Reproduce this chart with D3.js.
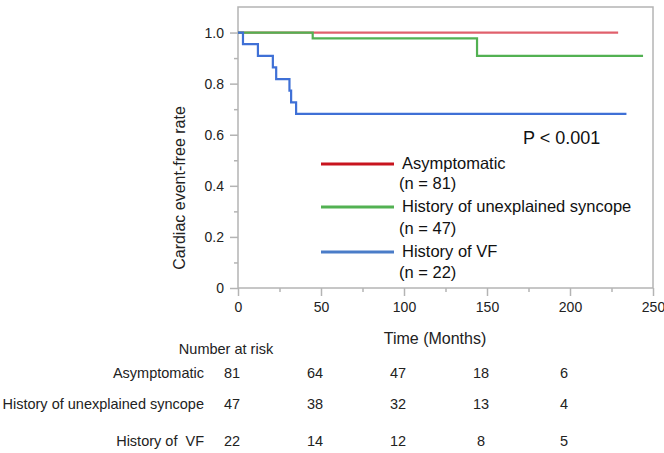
<!DOCTYPE html>
<html>
<head>
<meta charset="utf-8">
<script src="https://cdn.jsdelivr.net/npm/d3@7"></script>
<style>
  body { margin: 0; background: #fff; }
  svg { font-family: "Liberation Sans", Arial, sans-serif; }
</style>
</head>
<body>
<div id="chart"></div>
<script>
// Kaplan-Meier curves (time in months, survival fraction)
const groups = ["Asymptomatic", "History of unexplained syncope", "History of VF"];
const groupN = ["(n = 81)", "(n = 47)", "(n = 22)"];
const asymTimes = [0, 229];
const asymSurv = [1, 1];
const syncTimes = [0, 45, 144, 244];
const syncSurv = [1, 0.977, 0.909, 0.909];
const vfTimes = [0, 3, 12, 21, 23, 31, 32, 35, 234];
const vfSurv = [1, 0.955, 0.909, 0.864, 0.818, 0.773, 0.727, 0.682, 0.682];

// number at risk table
const riskTimes = [0, 50, 100, 150, 200];
const riskLabels = ["Asymptomatic", "History of unexplained syncope", "History of  VF"];
const riskAsym = [81, 64, 47, 18, 6];
const riskSync = [47, 38, 32, 13, 4];
const riskVF = [22, 14, 12, 8, 5];

const xTicks = [0, 50, 100, 150, 200, 250];
const yTicks = [0, 0.2, 0.4, 0.6, 0.8, 1.0];

const width = 664, height = 453;
const margin = {top: 7, right: 11, bottom: 165, left: 238};
const axisColor = "#b4b4b4";
const curveColors = ["#e0606c", "#52b152", "#3f70d6"];
const legendColors = ["#c8141e", "#52b152", "#4a7cc8"];

const svg = d3.select("#chart").append("svg")
    .attr("width", width)
    .attr("height", height);

const xScale = d3.scaleLinear().domain([0, 250]).range([margin.left, width - margin.right]);
const yScale = d3.scaleLinear().domain([0, 1.1]).range([height - margin.bottom, margin.top]);

// frame
svg.append("rect")
    .attr("x", xScale(0))
    .attr("y", yScale(1.1))
    .attr("width", xScale(250) - xScale(0))
    .attr("height", yScale(0) - yScale(1.1))
    .attr("fill", "none")
    .attr("stroke", axisColor)
    .attr("stroke-width", 1.5);

// x axis: major + minor ticks
const xAxisG = svg.append("g")
    .attr("transform", "translate(0," + yScale(0) + ")");
xAxisG.call(d3.axisBottom(xScale).tickValues(d3.range(25, 250, 50)).tickSize(4).tickFormat(""));
xAxisG.append("g").call(d3.axisBottom(xScale).tickValues(xTicks).tickSize(8).tickPadding(6));
xAxisG.selectAll(".domain").remove();
xAxisG.selectAll("line").attr("stroke", axisColor).attr("stroke-width", 1.5);
xAxisG.selectAll("text").attr("fill", "#222").style("font-size", "14px").attr("font-family", null);

// y axis
const yAxisG = svg.append("g")
    .attr("transform", "translate(" + xScale(0) + ",0)");
yAxisG.call(d3.axisLeft(yScale).tickValues(d3.range(0.1, 1.0, 0.2)).tickSize(4).tickFormat(""));
yAxisG.append("g").call(d3.axisLeft(yScale).tickValues(yTicks).tickSize(8).tickPadding(6)
    .tickFormat(d => d === 0 ? "0" : d3.format(".1f")(d)));
yAxisG.selectAll(".domain").remove();
yAxisG.selectAll("line").attr("stroke", axisColor).attr("stroke-width", 1.5);
yAxisG.selectAll("text").attr("fill", "#222").style("font-size", "14px").attr("font-family", null);

// axis titles
svg.append("text")
    .attr("x", 435)
    .attr("y", 338)
    .attr("dy", "0.35em")
    .attr("text-anchor", "middle")
    .style("font-size", "16px")
    .attr("fill", "#222")
    .text("Time (Months)");

svg.append("text")
    .attr("transform", "translate(179,188) rotate(-90)")
    .attr("dy", "0.35em")
    .attr("text-anchor", "middle")
    .style("font-size", "16px")
    .attr("fill", "#222")
    .text("Cardiac event-free rate");

// curves
const curves = [
    asymTimes.map((t, i) => [t, asymSurv[i]]),
    syncTimes.map((t, i) => [t, syncSurv[i]]),
    vfTimes.map((t, i) => [t, vfSurv[i]])
];
const line = d3.line()
    .x(d => xScale(d[0]))
    .y(d => yScale(d[1]))
    .curve(d3.curveStepAfter);

svg.selectAll(".km")
    .data(curves)
    .join("path")
    .attr("class", "km")
    .attr("d", line)
    .attr("fill", "none")
    .attr("stroke", (d, i) => curveColors[i])
    .attr("stroke-width", 2.2);

// p value
svg.append("text")
    .attr("x", 523)
    .attr("y", 138)
    .attr("dy", "0.35em")
    .style("font-size", "18px")
    .attr("fill", "#111")
    .text("P < 0.001");

// legend
const legendY = [164, 207, 252];
const legendGap = [19, 21, 20];
const legendG = svg.selectAll(".legendG")
    .data(groups)
    .join("g")
    .attr("class", "legendG")
    .attr("transform", (d, i) => "translate(0," + legendY[i] + ")");
legendG.append("line")
    .attr("x1", 321)
    .attr("x2", 394)
    .attr("stroke", (d, i) => legendColors[i])
    .attr("stroke-width", 3);
legendG.append("text")
    .attr("x", 402)
    .attr("y", -1)
    .attr("dy", "0.35em")
    .style("font-size", "16.5px")
    .attr("fill", "#111")
    .text(d => d);
legendG.append("text")
    .attr("x", 399)
    .attr("y", (d, i) => legendGap[i])
    .attr("dy", "0.35em")
    .style("font-size", "16.5px")
    .attr("fill", "#111")
    .text((d, i) => groupN[i]);

// number at risk
svg.append("text")
    .attr("x", 226)
    .attr("y", 349)
    .attr("dy", "0.35em")
    .attr("text-anchor", "middle")
    .style("font-size", "14.5px")
    .attr("fill", "#222")
    .text("Number at risk");

const riskRows = [riskAsym, riskSync, riskVF];
const rowY = [373, 404, 441];
const rowG = svg.selectAll(".riskRow")
    .data(riskRows)
    .join("g")
    .attr("class", "riskRow")
    .attr("transform", (d, i) => "translate(0," + rowY[i] + ")");
rowG.append("text")
    .attr("x", 204)
    .attr("dy", "0.35em")
    .attr("text-anchor", "end")
    .style("font-size", "14.5px")
    .attr("fill", "#222")
    .style("white-space", "pre")
    .text((d, i) => riskLabels[i]);
rowG.selectAll(".riskNum")
    .data(d => d)
    .join("text")
    .attr("class", "riskNum")
    .attr("x", (d, i) => xScale(riskTimes[i]) - 6)
    .attr("dy", "0.35em")
    .attr("text-anchor", "middle")
    .style("font-size", "14.5px")
    .attr("fill", "#222")
    .text(d => d);
</script>
</body>
</html>
